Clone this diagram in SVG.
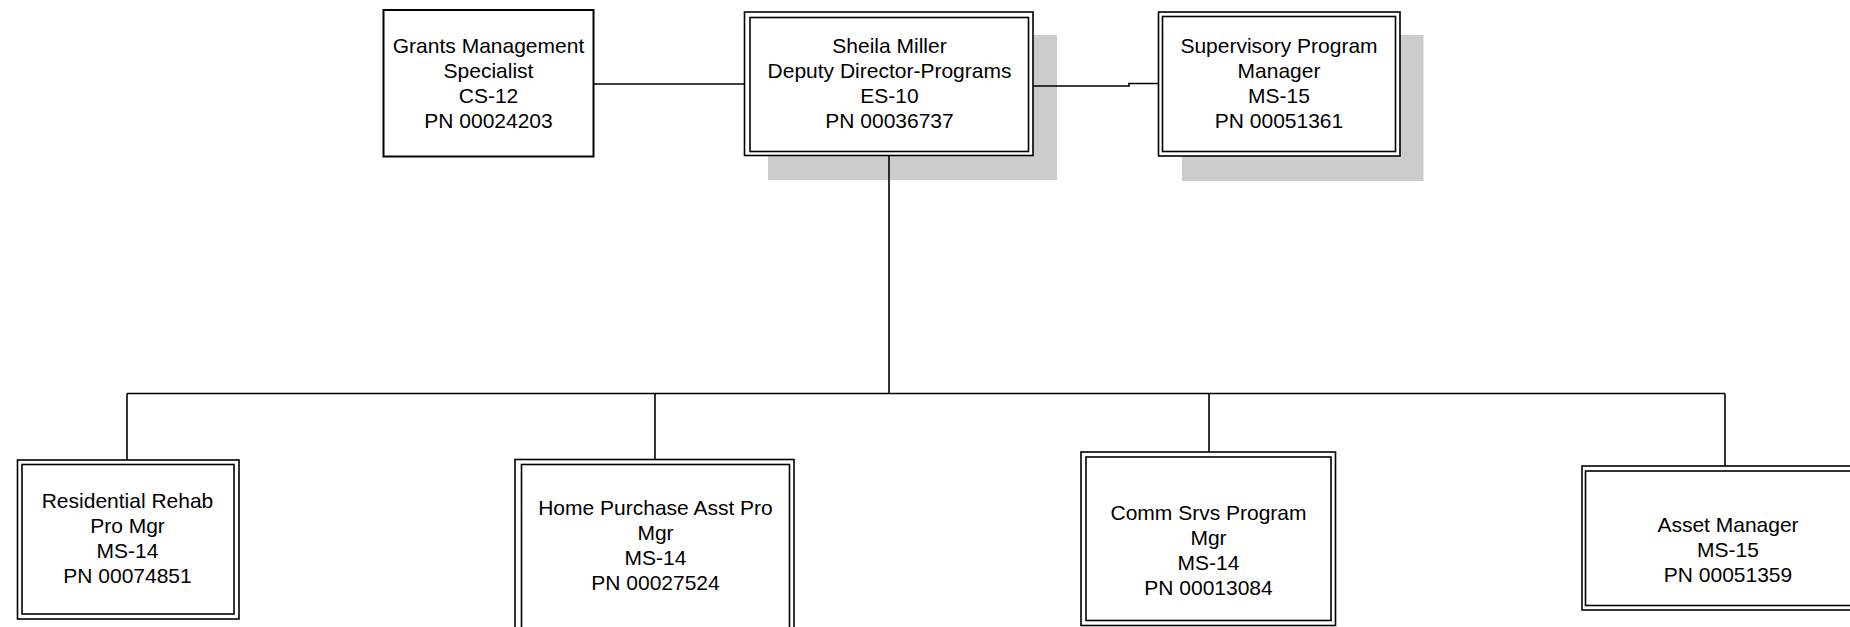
<svg xmlns="http://www.w3.org/2000/svg" width="1850" height="627" viewBox="0 0 1850 627">
<style>
.bg{fill:#ffffff}
.shadow{fill:#cccccc;stroke:none}
.single{fill:#ffffff;stroke:#000000;stroke-width:2}
.outer{fill:#ffffff;stroke:#000000;stroke-width:1.6}
.inner{fill:none;stroke:#000000;stroke-width:1.6}
.conn{fill:none;stroke:#000000;stroke-width:1.6}
text{font-family:"Liberation Sans",Arial,sans-serif;font-size:21px;fill:#000000;text-anchor:middle}
</style>
<rect class="bg" x="0" y="0" width="1850" height="627"/>
<g id="grants">
<rect class="single" x="383.5" y="10" width="210" height="146.5"/>
<text x="488.5" y="53">Grants Management</text>
<text x="488.5" y="78">Specialist</text>
<text x="488.5" y="103">CS-12</text>
<text x="488.5" y="128">PN 00024203</text>
</g>
<g id="sheila">
<rect class="shadow" x="768" y="35" width="289" height="145"/>
<rect class="outer" x="744.5" y="12" width="288.5" height="143.5"/>
<rect class="inner" x="750" y="17.5" width="278.5" height="134"/>
<text x="889.5" y="53">Sheila Miller</text>
<text x="889.5" y="78">Deputy Director-Programs</text>
<text x="889.5" y="103">ES-10</text>
<text x="889.5" y="128">PN 00036737</text>
</g>
<g id="supervisory">
<rect class="shadow" x="1182" y="35" width="241.5" height="146"/>
<rect class="outer" x="1158.5" y="12" width="241.5" height="144"/>
<rect class="inner" x="1162.5" y="16.5" width="233" height="135"/>
<text x="1279" y="53">Supervisory Program</text>
<text x="1279" y="78">Manager</text>
<text x="1279" y="103">MS-15</text>
<text x="1279" y="128">PN 00051361</text>
</g>
<g id="residential">
<rect class="outer" x="17.5" y="460" width="221.5" height="159"/>
<rect class="inner" x="22" y="464.5" width="212" height="149.5"/>
<text x="127.5" y="508">Residential Rehab</text>
<text x="127.5" y="533">Pro Mgr</text>
<text x="127.5" y="558">MS-14</text>
<text x="127.5" y="583">PN 00074851</text>
</g>
<g id="homepurchase">
<rect class="outer" x="515" y="459.5" width="279" height="190"/>
<rect class="inner" x="521.5" y="464.5" width="268" height="180"/>
<text x="655.5" y="514.5">Home Purchase Asst Pro</text>
<text x="655.5" y="539.5">Mgr</text>
<text x="655.5" y="564.5">MS-14</text>
<text x="655.5" y="589.5">PN 00027524</text>
</g>
<g id="commsrvs">
<rect class="outer" x="1081" y="452" width="254.5" height="173.5"/>
<rect class="inner" x="1086" y="457" width="245" height="163.5"/>
<text x="1208.5" y="520">Comm Srvs Program</text>
<text x="1208.5" y="545">Mgr</text>
<text x="1208.5" y="570">MS-14</text>
<text x="1208.5" y="595">PN 00013084</text>
</g>
<g id="asset">
<rect class="outer" x="1582" y="466" width="292" height="144"/>
<rect class="inner" x="1585.5" y="471" width="285" height="134.5"/>
<text x="1728" y="532">Asset Manager</text>
<text x="1728" y="557">MS-15</text>
<text x="1728" y="582">PN 00051359</text>
</g>
<g id="connectors">
<path class="conn" d="M593.5 84H744"/>
<path class="conn" d="M1033 86H1129V83.5H1158.5"/>
<path class="conn" d="M889 156V393.5"/>
<path class="conn" d="M127 393.5H1725"/>
<path class="conn" d="M127 393.5V460"/>
<path class="conn" d="M655 393.5V459.5"/>
<path class="conn" d="M1209 393.5V452"/>
<path class="conn" d="M1725 393.5V466"/>
</g>
</svg>
